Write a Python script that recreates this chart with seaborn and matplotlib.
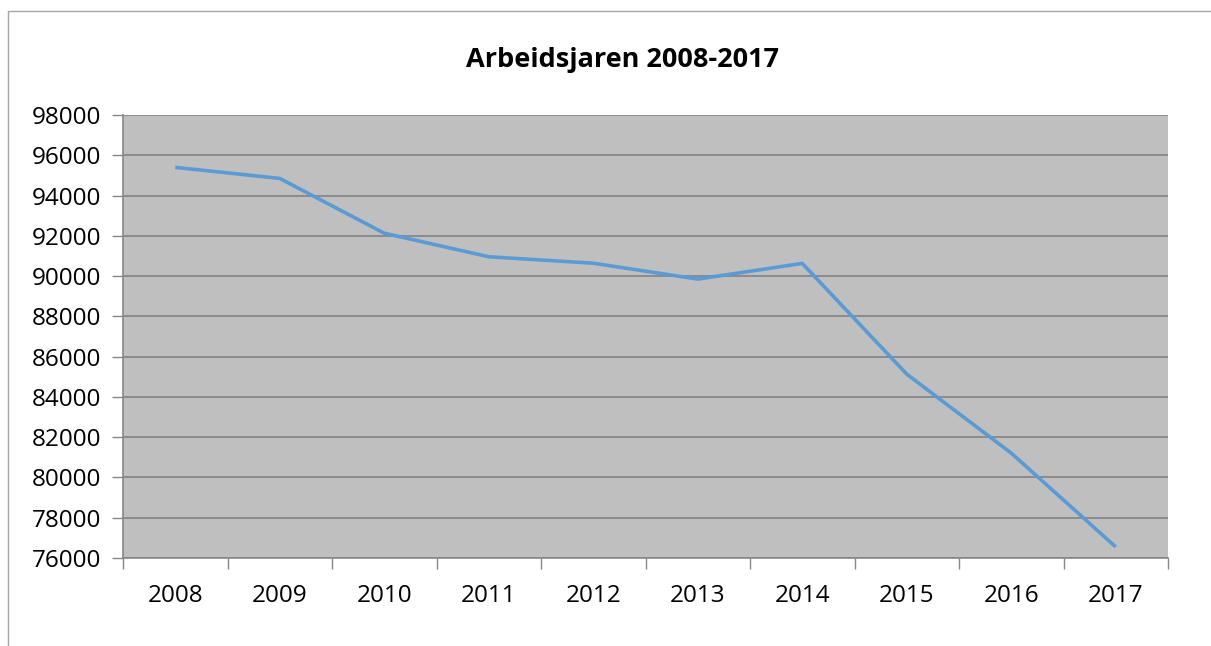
import numpy as np
import pandas as pd
import seaborn as sns
import matplotlib.pyplot as plt
from matplotlib.lines import Line2D

sns.set_style("white")
plt.rcParams['font.family'] = ['Open Sans', 'DejaVu Sans']
plt.rcParams['text.color'] = 'black'
plt.rcParams['xtick.color'] = 'black'
plt.rcParams['ytick.color'] = 'black'

# values
years = ['2008', '2009', '2010', '2011', '2012', '2013', '2014', '2015', '2016', '2017']
arbeidsjaren = [95400, 94850, 92130, 90960, 90640, 89850, 90630, 85130, 81210, 76550]
y_ticks = list(range(76000, 98001, 2000))

df = pd.DataFrame({'jaar': years, 'arbeidsjaren': arbeidsjaren})

fig = plt.figure(figsize=(12.11, 6.46), dpi=100)
ax = fig.add_axes([123 / 1211, 1 - 558 / 646, 1045 / 1211, 443 / 646])
ax.set_facecolor('#bfbfbf')

sns.lineplot(data=df, x='jaar', y='arbeidsjaren', ax=ax, color='#5b9bd5',
             linewidth=2.6, solid_capstyle='butt')

ax.set_xlim(-0.5, len(years) - 0.5)
ax.set_ylim(y_ticks[0], y_ticks[-1])
ax.set_yticks(y_ticks)
ax.set_yticklabels([str(t) for t in y_ticks])

# category boundaries as major ticks, labels on minor ticks
ax.set_xticks(np.arange(len(years) + 1) - 0.5)
ax.set_xticklabels([])
ax.set_xticks(np.arange(len(years)), minor=True)
ax.set_xticklabels(years, minor=True)

ax.grid(axis='y', color='#878787', linewidth=1.3)
ax.set_axisbelow(True)
ax.tick_params(axis='y', which='major', direction='out', length=8, width=1,
               color='#878787', labelcolor='black', labelsize=17.5, pad=8, left=True)
ax.tick_params(axis='x', which='major', direction='out', length=8, width=1,
               color='#878787', bottom=True)
ax.tick_params(axis='x', which='minor', length=0, labelsize=17.5,
               labelcolor='black', pad=18.5)

for side in ['top', 'right']:
    ax.spines[side].set_visible(False)
for side in ['left', 'bottom']:
    ax.spines[side].set_color('#878787')
    ax.spines[side].set_linewidth(1.2)

ax.set_xlabel('')
ax.set_ylabel('')

fig.text(623 / 1211, 1 - 67 / 646, 'Arbeidsjaren 2008-2017', ha='center',
         va='baseline', fontsize=19.5, fontweight='bold', color='black')

# chart area border (left and top visible in the crop)
fig.add_artist(Line2D([8 / 1211, 8 / 1211], [0, 1 - 11 / 646],
                      transform=fig.transFigure, color='#a6a6a6', linewidth=1))
fig.add_artist(Line2D([8 / 1211, 1], [1 - 11 / 646, 1 - 11 / 646],
                      transform=fig.transFigure, color='#a6a6a6', linewidth=1))

fig.savefig('out.png', dpi=100)
